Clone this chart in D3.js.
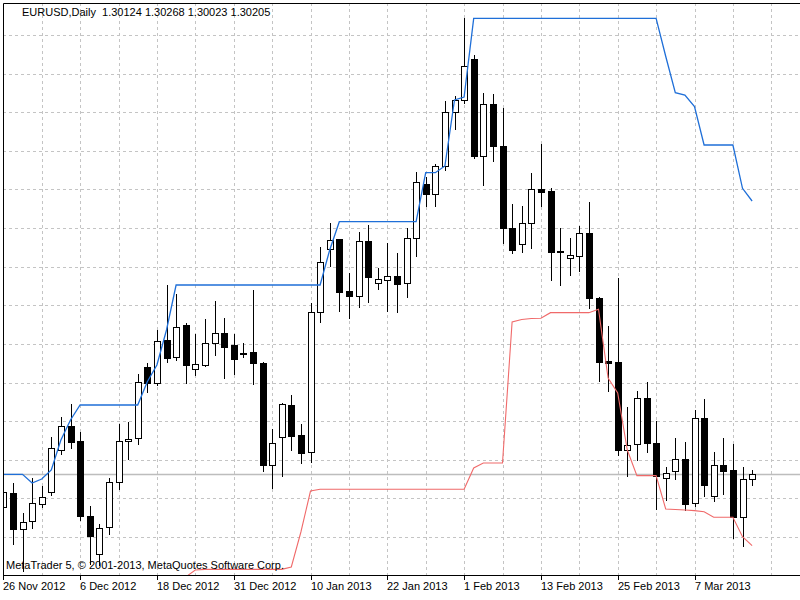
<!DOCTYPE html>
<html>
<head>
<meta charset="utf-8">
<script src="https://cdn.jsdelivr.net/npm/d3@7/dist/d3.min.js"></script>
<style>
body{margin:0;background:#fff;overflow:hidden}
svg text{font-family:"Liberation Sans",Arial,sans-serif;font-size:11px;fill:#000}
</style>
</head>
<body>
<div id="container"></div>
<script>
//EURUSD daily, 26 Nov 2012 .. 15 Mar 2013
const symbol = "EURUSD,Daily"
const copyright = "MetaTrader 5, \u00a9 2001-2013, MetaQuotes Software Corp."
const holidays = ["2012-12-25"]

const opens = [1.29715,1.29925,1.29380,1.29505,1.29755,1.29940,1.30565,1.30930,1.30705,1.29580,
  1.29005,1.29406,1.30081,1.30696,1.30741,1.31806,1.31575,1.32215,1.31965,1.32440,
  1.31776,1.31840,1.32166,1.32316,1.32140,1.32025,1.32031,1.31875,1.30340,1.30765,
  1.31240,1.30790,1.30531,1.32640,1.33576,1.33726,1.32950,1.32875,1.33705,1.33075,
  1.33115,1.33180,1.33075,1.33750,1.34555,1.34405,1.34825,1.35628,1.35815,1.36426,
  1.34975,1.35751,1.35125,1.33900,1.33651,1.33966,1.34480,1.34450,1.33550,1.33450,
  1.33480,1.33816,1.32850,1.31905,1.31890,1.30565,1.30651,1.31341,1.30666,1.30141,
  1.30250,1.30426,1.29775,1.31041,1.29880,1.30340,1.30265,1.29556,1.30124]
const highs = [1.29995,1.30066,1.29616,1.30145,1.30025,1.30756,1.31065,1.31255,1.30840,1.29725,
  1.29448,1.30141,1.30951,1.30990,1.31705,1.31870,1.32365,1.33040,1.32905,1.32470,
  1.32301,1.32526,1.32805,1.32541,1.32305,1.32175,1.32965,1.31880,1.30880,1.31275,
  1.31390,1.30955,1.32766,1.33615,1.33966,1.33730,1.33216,1.33840,1.33940,1.33291,
  1.33675,1.33516,1.33891,1.34731,1.34665,1.34855,1.35800,1.35875,1.37041,1.36490,
  1.35916,1.35901,1.35700,1.34251,1.34230,1.34716,1.35151,1.34491,1.33891,1.33750,
  1.33925,1.34281,1.32855,1.32430,1.33150,1.31206,1.31455,1.31590,1.31005,1.30306,
  1.30741,1.30690,1.31165,1.31330,1.30540,1.30741,1.30655,1.30306,1.30268]
const lows = [1.29635,1.29140,1.28735,1.29380,1.29688,1.29880,1.30490,1.30580,1.29505,1.28840,
  1.28825,1.29290,1.29965,1.30415,1.30640,1.31416,1.31525,1.31866,1.31900,1.31555,
  1.31680,1.31806,1.31975,1.31626,1.31690,1.31941,1.31540,1.30240,1.29976,1.30156,
  1.30555,1.30351,1.30366,1.32466,1.33315,1.32640,1.32526,1.32691,1.32766,1.32965,
  1.32640,1.32616,1.32841,1.33465,1.34206,1.34210,1.34755,1.35365,1.35755,1.34926,
  1.34525,1.34881,1.33655,1.33501,1.33516,1.33580,1.34215,1.33105,1.33025,1.33175,
  1.33240,1.32676,1.31585,1.31440,1.30475,1.30165,1.30405,1.30516,1.29665,1.29805,
  1.30115,1.29655,1.29715,1.29865,1.29790,1.29890,1.29226,1.29106,1.30023]
const closes = [1.29940,1.29380,1.29490,1.29766,1.29856,1.30591,1.30930,1.30690,1.29575,1.29268,
  1.29400,1.30081,1.30700,1.30735,1.31590,1.31575,1.32205,1.31950,1.32415,1.31840,
  1.31851,1.32175,1.32316,1.32115,1.31930,1.32005,1.31866,1.30340,1.30666,1.31255,
  1.30780,1.30525,1.32640,1.33378,1.33715,1.32940,1.32875,1.33700,1.33165,1.33126,
  1.33180,1.33055,1.33750,1.34590,1.34405,1.34825,1.35628,1.35808,1.36330,1.34975,
  1.35751,1.35118,1.33891,1.33565,1.33975,1.34476,1.34440,1.33540,1.33531,1.33490,
  1.33816,1.32841,1.31890,1.31875,1.30565,1.30640,1.31341,1.30666,1.30175,1.30225,
  1.30426,1.29755,1.31041,1.30040,1.30340,1.30255,1.29556,1.30126,1.30205]

//channel lines, null where nothing is drawn
const upperLine = [1.30200,1.30200,1.30200,1.30070,1.30130,1.30265,1.30715,1.31015,1.31240,1.31240,
  1.31240,1.31240,1.31240,1.31240,1.31240,1.31590,1.31840,1.32365,1.33040,1.33040,
  1.33040,1.33040,1.33040,1.33040,1.33040,1.33040,1.33040,1.33040,1.33040,1.33040,
  1.33040,1.33040,1.33040,1.33040,1.33565,1.33990,1.33990,1.33990,1.33990,1.33990,
  1.33990,1.33990,1.33990,1.33990,1.34725,1.34725,1.34825,1.35815,1.35860,1.37040,
  1.37040,1.37040,1.37040,1.37040,1.37040,1.37040,1.37040,1.37040,1.37040,1.37040,
  1.37040,1.37040,1.37040,1.37040,1.37040,1.37040,1.37040,1.37040,1.37040,1.36471,
  1.35925,1.35890,1.35715,1.35140,1.35140,1.35140,1.35140,1.34491,1.34300]
const lowerLine = [null,null,null,null,null,null,null,null,null,null,
  null,null,null,null,null,null,null,null,null,1.28660,
  1.28765,1.28775,1.28775,1.28775,1.28775,1.28775,1.28775,1.28775,1.28775,1.28775,
  1.28810,1.29335,1.29950,1.29976,1.29976,1.29976,1.29976,1.29976,1.29976,1.29976,
  1.29976,1.29976,1.29976,1.29976,1.29976,1.29976,1.29976,1.29976,1.29976,1.30295,
  1.30370,1.30370,1.30370,1.32485,1.32523,1.32538,1.32541,1.32625,1.32625,1.32625,
  1.32625,1.32625,1.32676,1.31645,1.31420,1.30565,1.30180,1.30180,1.30180,1.29680,
  1.29673,1.29665,1.29655,1.29640,1.29556,1.29556,1.29556,1.29265,1.29130]

const gridTopPrice = 1.36790
const gridStep = 0.005793
const gridCount = 14

const width = 800, height = 600
const plot = {left: 3, top: 3, right: 800, bottom: 575}

//trading days, weekends and holidays skipped
const fmtKey = d3.timeFormat("%Y-%m-%d")
const dates = d3.timeDay.range(new Date(2012, 10, 26), new Date(2013, 2, 16))
    .filter(d => d.getDay() % 6 !== 0 && !holidays.includes(fmtKey(d)))

const bars = dates.map((d, i) => ({date: d, i: i, o: opens[i], h: highs[i], l: lows[i], c: closes[i]}))

const x = d3.scaleLinear().domain([0, 78]).range([3.3, 752.1])
const y = d3.scaleLinear().domain([1.28690, 1.37270]).range([plot.bottom, plot.top])
const px = v => Math.round(v) + 0.5

const svg = d3.select("#container")
    .append("svg")
    .attr("width", width)
    .attr("height", height)
    .attr("viewBox", [0, 0, width, height])

svg.append("defs").append("clipPath")
    .attr("id", "plotclip")
    .append("rect")
    .attr("x", plot.left + 0.5).attr("y", plot.top + 0.5)
    .attr("width", plot.right - plot.left).attr("height", plot.bottom - plot.top)

const body = svg.append("g").attr("clip-path", "url(#plotclip)")

//grid
const gridV = d3.range(0, 88, 4)
body.append("g").selectAll("line")
    .data(gridV).enter()
    .append("line")
    .attr("x1", d => px(x(d))).attr("x2", d => px(x(d)))
    .attr("y1", plot.top).attr("y2", plot.bottom)
    .attr("stroke", "#c4c4c4")
    .attr("stroke-dasharray", "3,3")

const gridH = d3.range(gridCount).map(n => gridTopPrice - n * gridStep)
body.append("g").selectAll("line")
    .data(gridH).enter()
    .append("line")
    .attr("x1", plot.left).attr("x2", plot.right)
    .attr("y1", d => px(y(d))).attr("y2", d => px(y(d)))
    .attr("stroke", "#c4c4c4")
    .attr("stroke-dasharray", "3,3")

//bid line
const lastClose = closes[closes.length - 1]
body.append("line")
    .attr("x1", plot.left).attr("x2", plot.right)
    .attr("y1", px(y(lastClose))).attr("y2", px(y(lastClose)))
    .attr("stroke", "#bdbdbd")
    .attr("stroke-width", 1.3)

//candles
const candle = body.append("g").selectAll("g")
    .data(bars).enter()
    .append("g")

candle.append("line")
    .attr("x1", d => px(x(d.i))).attr("x2", d => px(x(d.i)))
    .attr("y1", d => Math.round(y(d.h))).attr("y2", d => Math.round(y(d.l)))
    .attr("stroke", "#000")

candle.append("rect")
    .attr("x", d => Math.round(x(d.i)) - 2.5)
    .attr("width", 6)
    .attr("y", d => Math.round(y(Math.max(d.o, d.c))) + 0.5)
    .attr("height", d => Math.max(1, Math.round(y(Math.min(d.o, d.c))) - Math.round(y(Math.max(d.o, d.c)))))
    .attr("fill", d => d.c >= d.o ? "#fff" : "#000")
    .attr("stroke", "#000")

//channel lines
const lineGen = d3.line()
    .defined(d => d[1] != null)
    .x(d => x(d[0]))
    .y(d => y(d[1]))

body.append("path")
    .datum(upperLine.map((v, i) => [i, v]))
    .attr("d", lineGen)
    .attr("fill", "none")
    .attr("stroke", "#1f6fd8")
    .attr("stroke-width", 1.3)

body.append("path")
    .datum(lowerLine.map((v, i) => [i, v]))
    .attr("d", lineGen)
    .attr("fill", "none")
    .attr("stroke", "#f06a6a")
    .attr("stroke-width", 1.1)

//frame
svg.append("path")
    .attr("d", `M${plot.right},${plot.top + 0.5}H${plot.left + 0.5}V${plot.bottom + 0.5}H${plot.right}`)
    .attr("fill", "none")
    .attr("stroke", "#000")

//time axis
const labelIdx = d3.range(0, bars.length, 8)
const fmtDate = d3.timeFormat("%-d %b %Y")
const axis = svg.append("g")
axis.selectAll("line")
    .data(labelIdx).enter()
    .append("line")
    .attr("x1", d => px(x(d))).attr("x2", d => px(x(d)))
    .attr("y1", plot.bottom).attr("y2", plot.bottom + 5)
    .attr("stroke", "#000")
axis.selectAll("text")
    .data(labelIdx).enter()
    .append("text")
    .attr("x", d => Math.round(x(d)))
    .attr("y", 590)
    .text(d => fmtDate(bars[d].date))

//captions
const last = bars[bars.length - 1]
const f5 = d3.format(".5f")
svg.append("text")
    .attr("x", 22).attr("y", 16)
    .attr("xml:space", "preserve")
    .text(`${symbol}  ${f5(last.o)} ${f5(last.h)} ${f5(last.l)} ${f5(last.c)}`)

svg.append("text")
    .attr("x", 6).attr("y", 569)
    .text(copyright)
</script>
</body>
</html>
